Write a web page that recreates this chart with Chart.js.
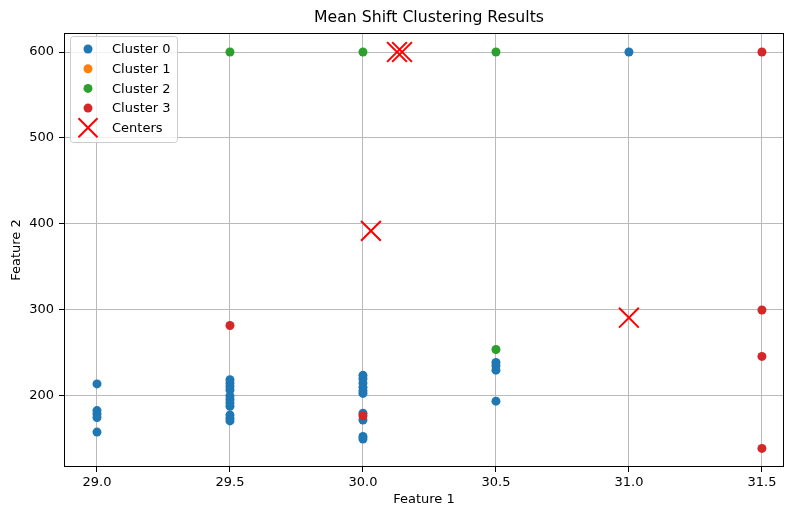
<!DOCTYPE html>
<html>
<head>
<meta charset="utf-8">
<script src="https://cdn.jsdelivr.net/npm/chart.js@4.4.1/dist/chart.umd.min.js"></script>
<style>
  html, body { margin: 0; padding: 0; background: #fff; }
</style>
</head>
<body>
<canvas id="chart" width="785" height="506"></canvas>
<script>
// data
const clusterNames = ['Cluster 0', 'Cluster 1', 'Cluster 2', 'Cluster 3'];
const clusterColors = ['#1f77b4', '#ff7f0e', '#2ca02c', '#d62728'];

const cluster0X = [29.0, 29.0, 29.0, 29.0, 29.0,
  29.5, 29.5, 29.5, 29.5, 29.5, 29.5, 29.5, 29.5, 29.5, 29.5, 29.5,
  30.0, 30.0, 30.0, 30.0, 30.0, 30.0, 30.0, 30.0, 30.0, 30.0,
  30.5, 30.5, 30.5, 30.5,
  31.0];
const cluster0Y = [214, 183, 179, 175, 158,
  219, 215, 211, 207, 200, 196, 192, 188, 178, 174, 171,
  224, 220, 215, 210, 206, 203, 180, 172, 153, 150,
  239, 235, 230, 194,
  600];

const cluster1X = [];
const cluster1Y = [];

const cluster2X = [29.5, 30.0, 30.5, 30.5];
const cluster2Y = [600, 600, 600, 254];

const cluster3X = [29.5, 30.0, 31.5, 31.5, 31.5, 31.5];
const cluster3Y = [282, 177, 600, 300, 246, 139];

const centerX = [30.128, 30.147, 30.03, 31.0];
const centerY = [600, 600, 392, 291];

const xTicks = [29.0, 29.5, 30.0, 30.5, 31.0, 31.5];
const yTicks = [200, 300, 400, 500, 600];

const FONT = 'DejaVu Sans';

function toPoints(xs, ys) {
  return xs.map((x, i) => ({ x: x, y: ys[i] }));
}

const clusterXs = [cluster0X, cluster1X, cluster2X, cluster3X];
const clusterYs = [cluster0Y, cluster1Y, cluster2Y, cluster3Y];

const datasets = clusterNames.map((name, i) => ({
  label: name,
  data: toPoints(clusterXs[i], clusterYs[i]),
  backgroundColor: clusterColors[i],
  borderWidth: 0,
  pointRadius: 4.5,
  pointHoverRadius: 4.5,
  order: 4 - i
}));
datasets.push({
  label: 'Centers',
  data: toPoints(centerX, centerY),
  pointStyle: 'crossRot',
  borderColor: '#ff0000',
  backgroundColor: '#ff0000',
  borderWidth: 2,
  pointRadius: 14,
  pointHoverRadius: 14,
  order: 0
});

// title, top/right spines and the boxed legend inside the plot
const decorations = {
  id: 'decorations',
  afterDraw(chart) {
    const ctx = chart.ctx;
    const a = chart.chartArea;
    ctx.save();

    ctx.strokeStyle = '#000';
    ctx.lineWidth = 1;
    ctx.strokeRect(a.left + 0.5, a.top + 0.5, a.right - a.left - 1, a.bottom - a.top - 1);

    ctx.fillStyle = '#000';
    ctx.font = '15.7px "' + FONT + '"';
    ctx.textAlign = 'center';
    ctx.textBaseline = 'middle';
    ctx.fillText('Mean Shift Clustering Results', (a.left + a.right) / 2 + 5, 18);

    const bx = a.left + 6, by = a.top + 3, bw = 107, bh = 106;
    ctx.beginPath();
    ctx.roundRect(bx + 0.5, by + 0.5, bw, bh, 3);
    ctx.fillStyle = 'rgba(255,255,255,0.8)';
    ctx.fill();
    ctx.strokeStyle = '#cccccc';
    ctx.stroke();

    ctx.font = '13px "' + FONT + '"';
    ctx.textAlign = 'left';
    chart.data.datasets.forEach((ds, i) => {
      const y = by + 13 + i * 19.7;
      const mx = bx + 18;
      if (ds.pointStyle === 'crossRot') {
        ctx.strokeStyle = ds.borderColor;
        ctx.lineWidth = ds.borderWidth;
        ctx.beginPath();
        ctx.moveTo(mx - 9.5, y - 9.5); ctx.lineTo(mx + 9.5, y + 9.5);
        ctx.moveTo(mx - 9.5, y + 9.5); ctx.lineTo(mx + 9.5, y - 9.5);
        ctx.stroke();
      } else {
        ctx.fillStyle = ds.backgroundColor;
        ctx.beginPath();
        ctx.arc(mx, y, 4.5, 0, Math.PI * 2);
        ctx.fill();
      }
      ctx.fillStyle = '#000';
      ctx.fillText(ds.label, bx + 42, y + 1);
    });
    ctx.restore();
  }
};

new Chart(document.getElementById('chart'), {
  type: 'scatter',
  data: { datasets: datasets },
  plugins: [decorations],
  options: {
    responsive: false,
    animation: false,
    devicePixelRatio: 1,
    layout: { autoPadding: false, padding: { top: 33, right: 1, left: 0, bottom: 0 } },
    plugins: {
      legend: { display: false },
      title: { display: false },
      tooltip: { enabled: false }
    },
    scales: {
      x: {
        type: 'linear',
        min: 28.876,
        max: 31.583,
        z: 1,
        afterBuildTicks: s => { s.ticks = xTicks.map(v => ({ value: v })); },
        afterFit: s => { s.height = 39; s.paddingLeft = 0; s.paddingRight = 0; },
        ticks: {
          color: '#000',
          padding: 3,
          font: { family: FONT, size: 13 },
          callback: v => v.toFixed(1)
        },
        grid: { color: '#bababa', lineWidth: 1, tickColor: '#000', tickLength: 5 },
        border: { display: false },
        title: {
          display: true,
          text: 'Feature 1',
          color: '#000',
          padding: 0,
          font: { family: FONT, size: 13, lineHeight: 1 }
        }
      },
      y: {
        type: 'linear',
        min: 117.4,
        max: 622.1,
        z: 1,
        afterBuildTicks: s => { s.ticks = yTicks.map(v => ({ value: v })); },
        afterFit: s => { s.width = 64; s.paddingTop = 0; s.paddingBottom = 0; },
        ticks: {
          color: '#000',
          padding: 5,
          font: { family: FONT, size: 13 }
        },
        grid: { color: '#bababa', lineWidth: 1, tickColor: '#000', tickLength: 5 },
        border: { display: false },
        title: {
          display: true,
          text: 'Feature 2',
          color: '#000',
          padding: { top: 10.5, bottom: 0 },
          font: { family: FONT, size: 13, lineHeight: 1 }
        }
      }
    }
  }
});
</script>
</body>
</html>
